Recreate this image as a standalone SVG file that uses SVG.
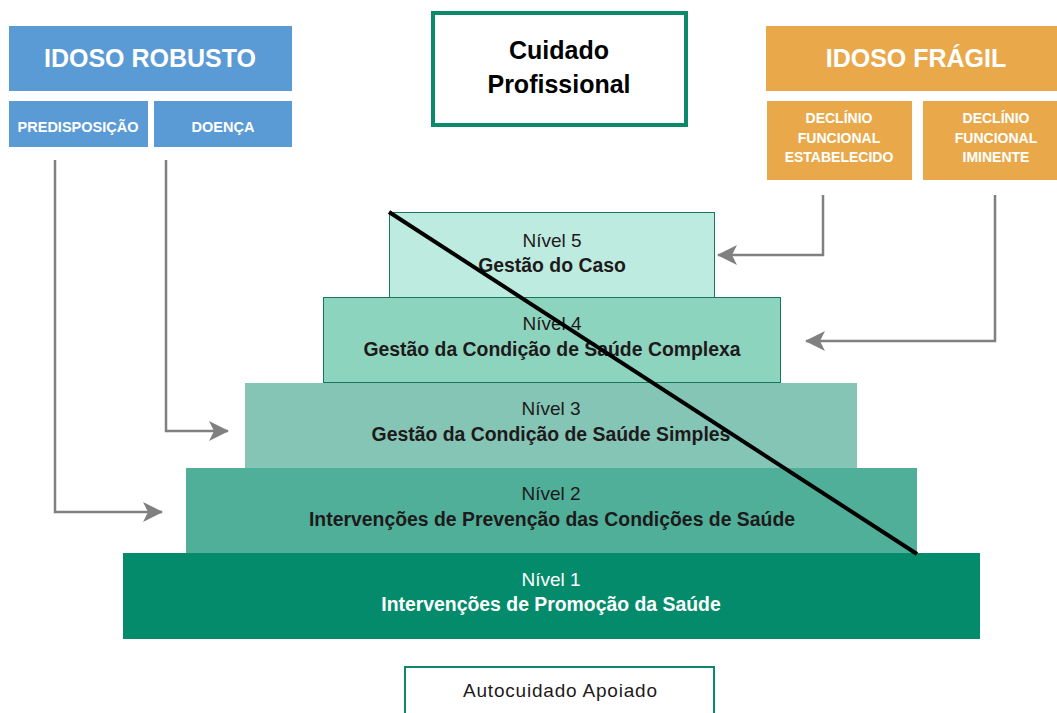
<svg xmlns="http://www.w3.org/2000/svg" width="1057" height="713" viewBox="0 0 1057 713">
<style>
.blue{fill:#5B9BD5}
.orange{fill:#E9A94B}
.hw{font-family:"Liberation Sans",Arial,sans-serif;font-weight:bold;fill:#ffffff;text-anchor:middle}
.lvl{font-family:"Liberation Sans",Arial,sans-serif;font-size:19px;fill:#1E1A1B;text-anchor:middle}
.b{font-weight:bold;font-size:19.4px}
.conn{fill:none;stroke:#808080;stroke-width:2.5}
</style>
<defs>
<marker id="ah" viewBox="0 0 20 20" refX="19" refY="10" markerWidth="20" markerHeight="20" markerUnits="userSpaceOnUse" orient="auto">
<path d="M0,0 L20,10 L0,20 L5,10 z" fill="#808080"/>
</marker>
</defs>
<rect width="1057" height="713" fill="#ffffff"/>

<g id="idoso-robusto">
<rect class="blue" x="9" y="26" width="283" height="65"/>
<text class="hw" x="150" y="67" font-size="25">IDOSO ROBUSTO</text>
</g>
<g id="predisposicao">
<rect class="blue" x="9" y="101" width="139" height="46"/>
<text class="hw" x="78" y="132" font-size="14.5">PREDISPOSIÇÃO</text>
</g>
<g id="doenca">
<rect class="blue" x="154" y="101" width="138" height="46"/>
<text class="hw" x="223" y="132" font-size="14.5">DOENÇA</text>
</g>

<g id="cuidado-profissional">
<rect x="433" y="13" width="253" height="112" fill="#ffffff" stroke="#0B8A6B" stroke-width="4"/>
<text x="559" y="59" font-family="Liberation Sans,Arial,sans-serif" font-weight="bold" font-size="25" fill="#000" text-anchor="middle">Cuidado</text>
<text x="559" y="93" font-family="Liberation Sans,Arial,sans-serif" font-weight="bold" font-size="25" fill="#000" text-anchor="middle">Profissional</text>
</g>

<g id="idoso-fragil">
<rect class="orange" x="766" y="26" width="291" height="65"/>
<text class="hw" x="916" y="67" font-size="25">IDOSO FRÁGIL</text>
</g>
<g id="declinio-estabelecido">
<rect class="orange" x="767" y="101" width="145" height="79"/>
<text class="hw" x="839" y="123" font-size="14">DECLÍNIO</text>
<text class="hw" x="839" y="143" font-size="14">FUNCIONAL</text>
<text class="hw" x="839" y="162" font-size="14">ESTABELECIDO</text>
</g>
<g id="declinio-iminente">
<rect class="orange" x="923" y="101" width="134" height="79"/>
<text class="hw" x="996" y="123" font-size="14">DECLÍNIO</text>
<text class="hw" x="996" y="143" font-size="14">FUNCIONAL</text>
<text class="hw" x="996" y="162" font-size="14">IMINENTE</text>
</g>

<g id="nivel1">
<rect x="123" y="553" width="857" height="86" fill="#038B6B"/>
<text class="lvl" x="551" y="586" style="fill:#ffffff">Nível 1</text>
<text class="lvl b" x="551" y="611" style="fill:#ffffff">Intervenções de Promoção da Saúde</text>
</g>
<g id="nivel2">
<rect x="186" y="468" width="731" height="85" fill="#4FAF99"/>
<text class="lvl" x="551" y="500">Nível 2</text>
<text class="lvl b" x="552" y="526">Intervenções de Prevenção das Condições de Saúde</text>
</g>
<g id="nivel3">
<rect x="245" y="383" width="612" height="85" fill="#84C5B5"/>
<text class="lvl" x="551" y="415">Nível 3</text>
<text class="lvl b" x="551" y="441">Gestão da Condição de Saúde Simples</text>
</g>
<g id="nivel4">
<rect x="323.5" y="297.5" width="457" height="85" fill="#8DD4BE" stroke="#17785E" stroke-width="1"/>
<text class="lvl" x="552" y="330">Nível 4</text>
<text class="lvl b" x="552" y="356">Gestão da Condição de Saúde Complexa</text>
</g>
<g id="nivel5">
<rect x="389.5" y="212.5" width="325" height="85" fill="#BEEBDF" stroke="#17785E" stroke-width="1"/>
<text class="lvl" x="552" y="247">Nível 5</text>
<text class="lvl b" x="552" y="272">Gestão do Caso</text>
</g>

<g id="autocuidado-apoiado">
<rect x="405" y="667" width="309" height="60" fill="#ffffff" stroke="#0B8A6B" stroke-width="2"/>
<text x="560" y="697" font-family="Liberation Sans,Arial,sans-serif" font-size="19" fill="#1E1A1B" text-anchor="middle" textLength="194" lengthAdjust="spacing">Autocuidado Apoiado</text>
</g>

<g id="connectors">
<polyline class="conn" points="55,160 55,512 162,512" marker-end="url(#ah)"/>
<polyline class="conn" points="166,160 166,431 228,431" marker-end="url(#ah)"/>
<polyline class="conn" points="823,195 823,255 718,255" marker-end="url(#ah)"/>
<polyline class="conn" points="995,195 995,341 806,341" marker-end="url(#ah)"/>
<line x1="389" y1="212" x2="917" y2="554" stroke="#000" stroke-width="4"/>
</g>
</svg>
